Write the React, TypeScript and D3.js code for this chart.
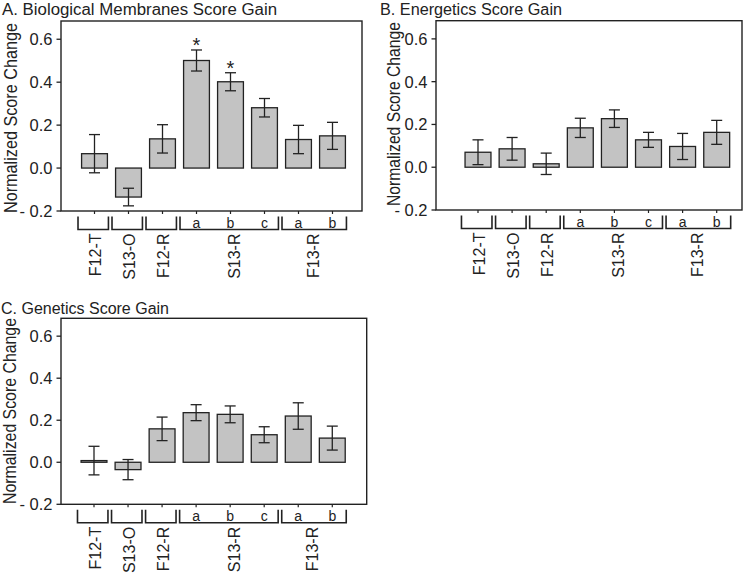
import React from 'react';
import * as d3 from 'd3';

const categories = ['F12-T', 'S13-O', 'F12-R', 'S13-R a', 'S13-R b', 'S13-R c', 'F13-R a', 'F13-R b'];
const subLabels = ['', '', '', 'a', 'b', 'c', 'a', 'b'];
const groupNames = ['F12-T', 'S13-O', 'F12-R', 'S13-R', 'F13-R'];
const groupFirst = [0, 1, 2, 3, 6];
const groupLast = [0, 1, 2, 5, 7];
const groupLabelPos = [0, 1, 2, 4.1, 6.4];
const yTicks = [-0.2, 0, 0.2, 0.4, 0.6];
const yTickLabels = ['- 0.2', '0.0', '0.2', '0.4', '0.6'];

const membranesMean = [0.067, -0.135, 0.136, 0.501, 0.402, 0.281, 0.133, 0.15];
const membranesErr = [0.089, 0.041, 0.066, 0.049, 0.042, 0.043, 0.066, 0.063];
const membranesSig = [false, false, false, true, true, false, false, false];

const energeticsMean = [0.07, 0.086, 0.016, 0.184, 0.227, 0.128, 0.097, 0.163];
const energeticsErr = [0.058, 0.053, 0.05, 0.045, 0.041, 0.035, 0.061, 0.056];
const energeticsSig = [false, false, false, false, false, false, false, false];

const geneticsMean = [0.008, -0.035, 0.159, 0.236, 0.228, 0.131, 0.22, 0.115];
const geneticsErr = [0.068, 0.048, 0.056, 0.038, 0.04, 0.038, 0.063, 0.057];
const geneticsSig = [false, false, false, false, false, false, false, false];

const FONT = '"Liberation Sans", Arial, sans-serif';
const INK = '#222';

type PanelProps = {
  title: string;
  titleX: number;
  titleY: number;
  titleLen: number;
  left: number;
  right: number;
  top: number;
  bottom: number;
  firstCenter: number;
  step: number;
  ylabelX: number;
  ylabelY: number;
  ylabelLen: number;
  means: number[];
  errs: number[];
  sig: boolean[];
};

function Panel(p: PanelProps) {
  const y = d3.scaleLinear().domain([-0.2, 0.685]).range([p.bottom, p.top]);
  const x = d3
    .scaleBand<string>()
    .domain(categories)
    .range([p.firstCenter - p.step / 2, p.firstCenter + (categories.length - 0.5) * p.step])
    .paddingInner(0.24)
    .paddingOuter(0.12);
  const bw = x.bandwidth();
  const cx = (i: number) => (x(categories[i]) as number) + bw / 2;
  const step = x.step();
  const cx2 = (f: number) => cx(0) + f * step;
  const cap = 5.5;
  return (
    <g>
      <text x={p.titleX} y={p.titleY} fontSize={16} fontFamily={FONT} fill={INK} textLength={p.titleLen} lengthAdjust="spacingAndGlyphs">
        {p.title}
      </text>
      <text
        transform={`translate(${p.ylabelX},${p.ylabelY}) rotate(-90)`}
        textAnchor="middle"
        dominantBaseline="central"
        fontSize={17.5}
        fontFamily={FONT}
        fill={INK}
        textLength={p.ylabelLen}
        lengthAdjust="spacingAndGlyphs"
      >
        Normalized Score Change
      </text>
      {yTicks.map((t, i) => (
        <g key={'yt' + i}>
          <line x1={p.left - 4.5} x2={p.left} y1={y(t)} y2={y(t)} stroke={INK} strokeWidth={1.3} />
          <text x={p.left - 8.5} y={y(t)} textAnchor="end" dominantBaseline="central" fontSize={16.5} fontFamily={FONT} fill={INK}>
            {yTickLabels[i]}
          </text>
        </g>
      ))}
      {categories.map((c, i) => {
        const m = p.means[i];
        const e = p.errs[i];
        const yt = y(Math.max(m, 0));
        const yb = y(Math.min(m, 0));
        return (
          <g key={'b' + i}>
            <rect x={x(c)} y={yt} width={bw} height={Math.max(yb - yt, 0.5)} fill="#c3c3c3" stroke={INK} strokeWidth={1.3} />
            <line x1={cx(i)} x2={cx(i)} y1={y(m + e)} y2={y(m - e)} stroke={INK} strokeWidth={1.3} />
            <line x1={cx(i) - cap} x2={cx(i) + cap} y1={y(m + e)} y2={y(m + e)} stroke={INK} strokeWidth={1.3} />
            <line x1={cx(i) - cap} x2={cx(i) + cap} y1={y(m - e)} y2={y(m - e)} stroke={INK} strokeWidth={1.3} />
            {p.sig[i] && (
              <text x={cx(i)} y={y(m + e) - 8.5} textAnchor="middle" dominantBaseline="central" fontSize={20} fontFamily={FONT} fill={INK} dy={4}>
                *
              </text>
            )}
            <line x1={cx(i)} x2={cx(i)} y1={p.bottom} y2={p.bottom + 3} stroke={INK} strokeWidth={1.2} />
            {subLabels[i] && (
              <text x={cx(i)} y={p.bottom + 12} textAnchor="middle" dominantBaseline="central" fontSize={14} fontFamily={FONT} fill={INK}>
                {subLabels[i]}
              </text>
            )}
          </g>
        );
      })}
      <rect x={p.left} y={p.top} width={p.right - p.left} height={p.bottom - p.top} fill="none" stroke={INK} strokeWidth={1.4} />
      {groupNames.map((g, k) => {
        const x1 = cx(groupFirst[k]) - step * 0.485;
        const x2 = cx(groupLast[k]) + step * 0.41;
        const yTop = p.bottom + 5.5;
        const yBot = p.bottom + 18.5;
        return (
          <g key={'g' + k}>
            <path d={`M${x1},${yTop}V${yBot}H${x2}V${yTop}`} fill="none" stroke={INK} strokeWidth={1.6} />
            <text
              transform={`translate(${cx2(groupLabelPos[k]) + 1},${p.bottom + 22.5}) rotate(-90)`}
              textAnchor="end"
              dominantBaseline="central"
              fontSize={16}
              fontFamily={FONT}
              fill={INK}
            >
              {g}
            </text>
          </g>
        );
      })}
    </g>
  );
}

export default function App() {
  return (
    <svg width={750} height={574} style={{ position: 'absolute', left: 0, top: 0, background: '#fff' }}>
      <rect width={750} height={574} fill="#fff" />
      <Panel
        title="A. Biological Membranes Score Gain"
        titleX={2}
        titleY={15}
        titleLen={275}
        left={61}
        right={362}
        top={21}
        bottom={211}
        firstCenter={94.5}
        step={34}
        ylabelX={11}
        ylabelY={118}
        ylabelLen={190}
        means={membranesMean}
        errs={membranesErr}
        sig={membranesSig}
      />
      <Panel
        title="B. Energetics Score Gain"
        titleX={380}
        titleY={15}
        titleLen={182}
        left={436}
        right={742}
        top={20.7}
        bottom={210}
        firstCenter={478}
        step={34.1}
        ylabelX={394}
        ylabelY={114}
        ylabelLen={184}
        means={energeticsMean}
        errs={energeticsErr}
        sig={energeticsSig}
      />
      <Panel
        title="C. Genetics Score Gain"
        titleX={1}
        titleY={314}
        titleLen={168}
        left={61}
        right={366.7}
        top={318.3}
        bottom={504.3}
        firstCenter={94}
        step={34.04}
        ylabelX={9.5}
        ylabelY={411}
        ylabelLen={186}
        means={geneticsMean}
        errs={geneticsErr}
        sig={geneticsSig}
      />
    </svg>
  );
}
